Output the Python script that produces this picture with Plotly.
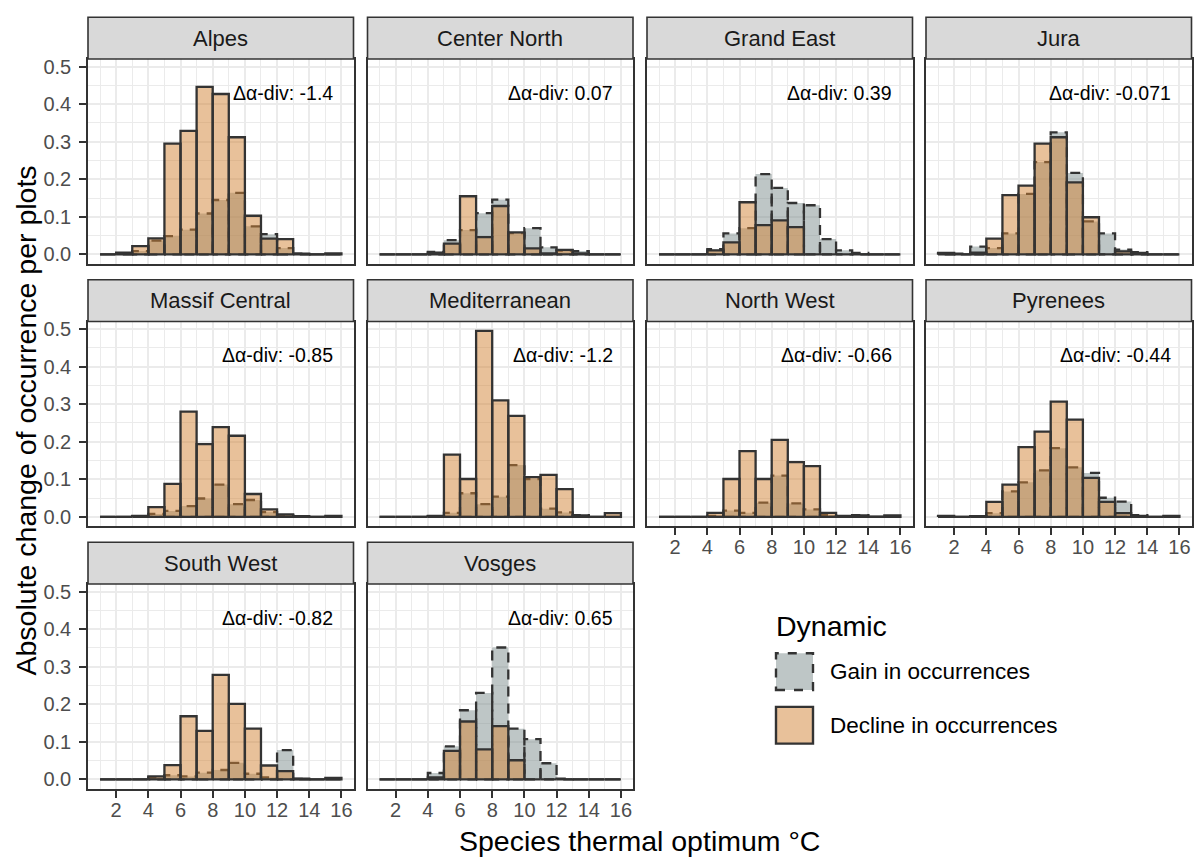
import plotly.graph_objects as go

# ---------------- data ----------------
regions = ["Alpes", "Center North", "Grand East", "Jura", "Massif Central",
           "Mediterranean", "North West", "Pyrenees", "South West", "Vosges"]
delta_div = ["-1.4", "0.07", "0.39", "-0.071", "-0.85", "-1.2", "-0.66", "-0.44", "-0.82", "0.65"]
bin_lower = [1, 2, 3, 4, 5, 6, 7, 8, 9, 10, 11, 12, 13, 14, 15]
bin_width = 1
x_ticks = [2, 4, 6, 8, 10, 12, 14, 16]
y_ticks = [0.0, 0.1, 0.2, 0.3, 0.4, 0.5]
y_ticklabels = ["0.0", "0.1", "0.2", "0.3", "0.4", "0.5"]

gain_alpes = [0, 0.002, 0.009, 0.037, 0.049, 0.066, 0.109, 0.145, 0.164, 0.075, 0.054, 0.017, 0.002, 0, 0]
decline_alpes = [0, 0.005, 0.022, 0.043, 0.295, 0.329, 0.446, 0.427, 0.312, 0.103, 0.042, 0.041, 0.002, 0, 0.003]
gain_center_north = [0, 0, 0, 0.007, 0.038, 0.065, 0.110, 0.146, 0.057, 0.070, 0.019, 0.010, 0.009, 0, 0]
decline_center_north = [0, 0, 0, 0.005, 0.029, 0.155, 0.046, 0.129, 0.059, 0.016, 0.003, 0.012, 0.003, 0, 0]
gain_grand_east = [0, 0, 0, 0.014, 0.056, 0.070, 0.214, 0.177, 0.137, 0.131, 0.041, 0.011, 0.004, 0, 0]
decline_grand_east = [0, 0, 0, 0.011, 0.032, 0.139, 0.078, 0.091, 0.073, 0, 0, 0, 0, 0, 0]
gain_jura = [0.002, 0.002, 0.021, 0.017, 0.056, 0.161, 0.246, 0.325, 0.217, 0.088, 0.056, 0.013, 0.006, 0, 0]
decline_jura = [0.004, 0, 0.005, 0.042, 0.158, 0.183, 0.295, 0.312, 0.192, 0.099, 0, 0.008, 0.004, 0, 0]
gain_massif_central = [0, 0, 0.002, 0.008, 0.016, 0.029, 0.049, 0.086, 0.034, 0.045, 0.013, 0.005, 0.001, 0, 0]
decline_massif_central = [0, 0, 0.003, 0.026, 0.088, 0.280, 0.194, 0.239, 0.216, 0.061, 0.020, 0.007, 0.002, 0, 0.003]
gain_mediterranean = [0, 0, 0, 0.002, 0.011, 0.063, 0.034, 0.054, 0.138, 0.101, 0.022, 0.012, 0.005, 0, 0]
decline_mediterranean = [0, 0, 0, 0.003, 0.166, 0.101, 0.495, 0.310, 0.269, 0.106, 0.112, 0.074, 0.004, 0, 0.010]
gain_north_west = [0, 0, 0, 0.003, 0.017, 0.011, 0.038, 0.110, 0.036, 0.020, 0.005, 0.002, 0.005, 0, 0]
decline_north_west = [0, 0, 0, 0.011, 0.101, 0.175, 0.101, 0.205, 0.146, 0.135, 0.011, 0.003, 0.004, 0.001, 0.004]
gain_pyrenees = [0.001, 0, 0.001, 0.010, 0.068, 0.092, 0.124, 0.183, 0.132, 0.117, 0.051, 0.041, 0.005, 0, 0]
decline_pyrenees = [0.003, 0, 0.002, 0.040, 0.086, 0.186, 0.227, 0.307, 0.259, 0.104, 0.040, 0.010, 0.003, 0, 0.003]
gain_south_west = [0, 0, 0, 0.005, 0.011, 0.008, 0.018, 0.025, 0.044, 0.015, 0.005, 0.078, 0.001, 0, 0]
decline_south_west = [0, 0, 0, 0.008, 0.038, 0.168, 0.129, 0.278, 0.201, 0.135, 0.037, 0.022, 0.002, 0, 0.004]
gain_vosges = [0, 0, 0, 0.017, 0.088, 0.184, 0.230, 0.351, 0.135, 0.107, 0.043, 0.002, 0, 0, 0]
decline_vosges = [0, 0, 0, 0.005, 0.076, 0.154, 0.080, 0.142, 0.051, 0, 0, 0, 0, 0, 0]

gains = [gain_alpes, gain_center_north, gain_grand_east, gain_jura, gain_massif_central,
         gain_mediterranean, gain_north_west, gain_pyrenees, gain_south_west, gain_vosges]
declines = [decline_alpes, decline_center_north, decline_grand_east, decline_jura,
            decline_massif_central, decline_mediterranean, decline_north_west,
            decline_pyrenees, decline_south_west, decline_vosges]

# ---------------- style / layout ----------------
W, H = 1199, 857
FONT = "Liberation Sans, Arial, sans-serif"
GAIN_FILL = "rgba(125,141,141,0.5)"
DECL_FILL = "rgba(209,131,53,0.5)"
EDGE = "#333333"
GRID = "#EBEBEB"
col_left = [88, 367.5, 647, 926]
panel_w = 265.5
row_top = [56.4, 320.4, 584.4]
panel_h = 206
strip_h = 42
XR = [0.25, 16.75]
YR = [-0.025, 0.52]
TICKFONT = dict(size=20, color="#4D4D4D", family=FONT)


def px(x):
    return x / W


def py(y):
    return 1 - y / H


def bar_path(lower, heights):
    xs, ys = [], []
    for lo, h in zip(lower, heights):
        x0, x1 = lo, lo + bin_width
        xs += [x0, x0, x1, x1, x0, None]
        ys += [0, h, h, 0, 0, None]
    return xs, ys


fig = go.Figure()
layout = dict(width=W, height=H, margin=dict(l=0, r=0, t=0, b=0),
              paper_bgcolor="white", plot_bgcolor="white", showlegend=False,
              font=dict(family=FONT))
shapes, annotations = [], []

ncol = 4
n = len(regions)
for i, reg in enumerate(regions):
    r, c = divmod(i, ncol)
    k = i + 1
    xa = "xaxis" if k == 1 else f"xaxis{k}"
    ya = "yaxis" if k == 1 else f"yaxis{k}"
    xref = "x" if k == 1 else f"x{k}"
    yref = "y" if k == 1 else f"y{k}"
    x0p, x1p = col_left[c], col_left[c] + panel_w
    y0p, y1p = row_top[r], row_top[r] + panel_h
    bottom = (i + ncol) >= n
    left = c == 0

    layout[xa] = dict(domain=[px(x0p), px(x1p)], anchor=yref, range=XR,
                      tickvals=x_ticks, ticktext=[str(t) for t in x_ticks],
                      showticklabels=bottom, ticks="outside" if bottom else "",
                      ticklen=7, tickwidth=1.6, tickcolor=EDGE, ticklabelstandoff=-5,
                      tickfont=TICKFONT,
                      showgrid=True, gridcolor=GRID, gridwidth=1.8,
                      minor=dict(dtick=1, tick0=1, showgrid=True, gridcolor=GRID, gridwidth=0.9, ticks=""),
                      showline=True, mirror=True, linecolor=EDGE, linewidth=1.6,
                      zeroline=False, fixedrange=True)
    layout[ya] = dict(domain=[py(y1p), py(y0p)], anchor=xref, range=YR,
                      tickvals=y_ticks, ticktext=y_ticklabels,
                      showticklabels=left, ticks="outside" if left else "",
                      ticklen=7, tickwidth=1.6, tickcolor=EDGE, ticklabelstandoff=4,
                      tickfont=TICKFONT,
                      showgrid=True, gridcolor=GRID, gridwidth=1.8,
                      minor=dict(dtick=0.05, tick0=0.05, showgrid=True, gridcolor=GRID, gridwidth=0.9, ticks=""),
                      showline=True, mirror=True, linecolor=EDGE, linewidth=1.6,
                      zeroline=False, fixedrange=True)

    gx, gy = bar_path(bin_lower, gains[i])
    fig.add_trace(go.Scatter(x=gx, y=gy, mode="lines", fill="toself", fillcolor=GAIN_FILL,
                             line=dict(color=EDGE, width=2.3, dash="10px,7px"),
                             xaxis=xref, yaxis=yref, hoverinfo="skip"))
    dx, dy = bar_path(bin_lower, declines[i])
    fig.add_trace(go.Scatter(x=dx, y=dy, mode="lines", fill="toself", fillcolor=DECL_FILL,
                             line=dict(color=EDGE, width=2.3),
                             xaxis=xref, yaxis=yref, hoverinfo="skip"))

    # strip
    shapes.append(dict(type="rect", xref="paper", yref="paper",
                       x0=px(x0p), x1=px(x1p), y0=py(y0p), y1=py(y0p - strip_h),
                       fillcolor="#D9D9D9", line=dict(color=EDGE, width=1.6), layer="above"))
    annotations.append(dict(xref="paper", yref="paper", x=px((x0p + x1p) / 2),
                            y=py(y0p - strip_h / 2), text=reg, showarrow=False,
                            xanchor="center", yanchor="middle",
                            font=dict(size=22, color="#1A1A1A", family=FONT)))
    annotations.append(dict(xref=xref, yref=yref, x=15.6, y=0.43,
                            text=f"\u0394\u03b1-div: {delta_div[i]}", showarrow=False,
                            xanchor="right", yanchor="middle",
                            font=dict(size=19.5, color="black", family=FONT)))

# axis titles
annotations.append(dict(xref="paper", yref="paper", x=px(639.5), y=py(843),
                        text="Species thermal optimum \u00b0C", showarrow=False,
                        xanchor="center", yanchor="middle",
                        font=dict(size=28.5, color="black", family=FONT)))
annotations.append(dict(xref="paper", yref="paper", x=px(26), y=py(420),
                        text="Absolute change of occurrence per plots", showarrow=False,
                        textangle=-90, xanchor="center", yanchor="middle",
                        font=dict(size=28.5, color="black", family=FONT)))

# legend (manual)
annotations.append(dict(xref="paper", yref="paper", x=px(774), y=py(627),
                        text="Dynamic", showarrow=False, xanchor="left", yanchor="middle",
                        font=dict(size=28.5, color="black", family=FONT)))
legend_items = [("Gain in occurrences", GAIN_FILL, "dash", 654, 691),
                ("Decline in occurrences", DECL_FILL, "solid", 708, 745)]
for label, fillc, dash, ky0, ky1 in legend_items:
    shapes.append(dict(type="rect", xref="paper", yref="paper",
                       x0=px(776), x1=px(813), y0=py(ky1), y1=py(ky0),
                       fillcolor=fillc, line=dict(color=EDGE, width=2.4, dash=dash)))
    annotations.append(dict(xref="paper", yref="paper", x=px(828), y=py((ky0 + ky1) / 2),
                            text=label, showarrow=False, xanchor="left", yanchor="middle",
                            font=dict(size=22.5, color="black", family=FONT)))

layout["shapes"] = shapes
layout["annotations"] = annotations
fig.update_layout(**layout)
fig.write_html("out.html", config={"displayModeBar": False},
               post_script="document.body.style.margin='0px';document.body.style.overflow='hidden';")
